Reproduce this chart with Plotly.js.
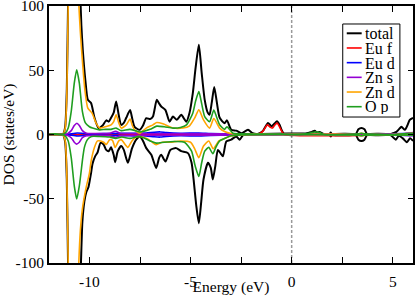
<!DOCTYPE html>
<html>
<head>
<meta charset="utf-8">
<script src="https://cdn.plot.ly/plotly-3.0.1.min.js"></script>
<style>html,body{margin:0;padding:0;background:#fff;}#chart{width:415px;height:296px;}</style>
</head>
<body>
<div id="chart"></div>
<script>
// ---------- data (energy in eV, DOS in states/eV; spin down stored as negative) ----------
const seriesNames = ["total", "Eu f", "Eu d", "Zn s", "Zn d", "O p"];
const seriesColors = ["#000000", "#ff0000", "#0000ff", "#9400d3", "#ffa500", "#1f9e1f"];

const totalUpE = [-12,-11.45,-11.3,-11.2,-11.12,-11.05,-10.9,-10.7,-10.5,-10.4,-10.33,-10.2,-10.08,-9.92,-9.75,-9.55,-9.35,-9.17,-9.05,-8.93,-8.8,-8.68,-8.55,-8.43,-8.3,-8.18,-7.99,-7.88,-7.77,-7.52,-7.35,-7.19,-7.0,-6.86,-6.67,-6.55,-6.45,-6.24,-6.04,-5.87,-5.68,-5.46,-5.21,-5.05,-4.89,-4.75,-4.59,-4.45,-4.3,-4.15,-4.06,-3.95,-3.83,-3.7,-3.56,-3.32,-3.2,-2.99,-2.74,-2.49,-2.16,-1.93,-1.68,-1.42,-1.3,-1.17,-1.0,-0.85,-0.73,-0.6,-0.51,-0.35,0.6,0.89,1.0,1.14,1.25,1.39,1.63,1.85,1.93,2.0,3.15,3.3,3.45,3.6,3.75,4.85,5.0,5.18,5.3,5.43,5.6,5.72,5.84,6.0];
const totalUp  = [0,0,0.5,6,35,110,240,240,130,85,66,42,27,24.5,13,5,7,11,10,13,17,25.7,15,7.5,9,13,19,12,6,3.6,7,12.7,12,14,27,24,21.8,19,10,14,11.4,15.3,10,17,32,52,69.8,48,27,17,15.3,25,37,25,13,8.8,11,3.7,3,1,3.6,1,0.5,2.8,6,9,6.5,8.5,10.3,7.5,4,0,0,1.5,2,3,1.5,2,0,0,1.5,0,0,4,5,4,0,0,1,2,4,6,3.6,7,11.4,13];
const totalDnE = [-12,-11.45,-11.3,-11.2,-11.12,-11.05,-10.9,-10.7,-10.5,-10.42,-10.35,-10.25,-10.16,-10.05,-9.92,-9.85,-9.72,-9.6,-9.45,-9.3,-9.17,-9.05,-8.93,-8.8,-8.73,-8.6,-8.43,-8.3,-8.1,-7.9,-7.69,-7.5,-7.35,-7.19,-6.94,-6.7,-6.55,-6.45,-6.24,-6.0,-5.71,-5.46,-5.13,-4.95,-4.85,-4.72,-4.59,-4.47,-4.36,-4.14,-4.0,-3.9,-3.78,-3.65,-3.5,-3.4,-3.23,-2.99,-2.74,-2.57,-2.4,-2.2,1.85,1.93,2.0,3.15,3.3,3.45,3.6,3.75,4.85,5.0,5.15,5.3,5.5,5.7,5.85,6.0];
const totalDn  = [0,0,-0.5,-6,-35,-110,-240,-240,-140,-100,-68,-52,-45,-41,-30,-23,-17,-14,-6.5,-7.8,-12,-13,-10,-16,-21.5,-13,-9,-12,-22,-11,-4,-1.5,-5,-10.6,-15.8,-26,-18,-15.8,-21,-12,-10.6,-13,-14.5,-22,-35,-55,-69,-52,-35,-22,-26,-35,-25,-12,-15,-17,-5.4,-4,-1.5,-4,-0.5,0,0,-1.5,0,0,-4,-5,-4,0,0,-2,-4,-1,-3,-6,-3,-5];

const euFUpE = [-12,-1.75,-1.55,-1.4,-1.2,-1.05,-0.96,-0.85,-0.72,-0.6,-0.47,-0.35,6];
const euFUp  = [0,0,1,3,7.5,5.5,5,7,8.9,6,2,0,0];
const euFDnE = [-12,6];
const euFDn  = [0,0];

const euDUpE = [-12,-11.2,-11.0,-10.6,-10.0,-9.0,-8.0,-7.2,-6.8,-6.5,-6.2,-5.5,-4.6,-4.0,-3.0,-2.0,-1.0,0,1,3,5,6];
const euDUp  = [0,0,0.3,1.2,0.5,0.8,1,1.2,1.8,2,1.5,1,1.2,0.8,0.5,0.3,0.5,0.2,0.3,0.3,0.6,1];
const euDDnE = [-12,-11.2,-11.0,-10.6,-10.0,-9.0,-8.0,-7.2,-6.8,-6.5,-6.2,-5.5,-4.6,-4.0,-3.0,-2.0,0,3,5,6];
const euDDn  = [0,0,-0.3,-1.2,-0.5,-0.8,-1,-1.2,-1.8,-2,-1.5,-1,-1.2,-0.8,-0.5,-0.3,-0.1,-0.2,-0.5,-0.8];

const znSUpE = [-12,-11.3,-11.1,-10.9,-10.75,-10.62,-10.5,-10.35,-10.15,-9.8,-9.0,-8.7,-8.5,-8.0,-7.0,-6.0,-5.0,-4.0,-3.0,-2.0,-1.0,0,3.45,5.5,6];
const znSUp  = [0,0,0.5,3,7,8.8,7,3,1,0.8,1,2.5,1,0.8,0.6,0.6,0.5,0.5,0.4,0.2,0.1,0,0.2,0.5,1.5];
const znSDnE = [-12,-11.3,-11.1,-10.9,-10.75,-10.64,-10.5,-10.35,-10.15,-9.8,-9.0,-8.7,-8.5,-8.0,-7.0,-6.0,-5.0,-4.0,-3.0,-2.0,-1.0,0,3.45,5.5,6];
const znSDn  = [0,0,-0.5,-2.5,-6,-7.5,-6,-2.5,-1,-0.8,-1,-2.3,-1,-0.8,-0.6,-0.6,-0.5,-0.5,-0.4,-0.2,-0.1,0,-0.2,-0.5,-1];

const znDUpE = [-12,-11.45,-11.3,-11.2,-11.12,-11.05,-10.9,-10.7,-10.55,-10.45,-10.37,-10.22,-10.08,-9.87,-9.67,-9.5,-9.17,-8.93,-8.8,-8.68,-8.55,-8.43,-8.18,-7.99,-7.88,-7.77,-7.52,-7.19,-6.86,-6.67,-6.37,-5.87,-5.38,-5.05,-4.8,-4.59,-4.36,-4.06,-3.85,-3.56,-3.32,-3.0,-2.5,-1.5,-0.35,0.5,3.2,3.45,3.7,5.0,5.5,6.0];
const znDUp  = [0,0,0.5,5,30,100,200,200,110,80,62,34,20.5,16.6,8.8,5,6.2,7.5,10,15.3,9,5,7.5,12,7,3.6,1,5,7.5,9.3,8.3,5,5,6.8,12.7,19.2,11.4,5,12.5,5,2.3,0.8,0.3,0.3,0,0,0,1,0,0,0.5,1];
const znDDnE = [-12,-11.45,-11.3,-11.2,-11.12,-11.05,-10.9,-10.7,-10.55,-10.45,-10.35,-10.16,-10.0,-9.92,-9.75,-9.6,-9.45,-9.3,-9.17,-9.0,-8.86,-8.73,-8.55,-8.43,-8.1,-7.9,-7.69,-7.5,-7.2,-6.94,-6.7,-6.4,-6.0,-5.5,-5.0,-4.8,-4.59,-4.36,-4.1,-3.88,-3.6,-3.3,-3.0,-2.5,-0.5,3.2,3.45,3.7,6.0];
const znDDn  = [0,0,-0.5,-5,-30,-100,-200,-200,-110,-75,-58,-41,-30,-21,-10,-5,-5,-6,-7.8,-4,-4.5,-10,-5,-4,-10,-5,-2,-1.5,-3,-5.4,-8,-6,-6,-5,-6,-11,-18,-9,-5,-11,-5,-3,-1,-0.3,0,0,-1,0,-0.5];

const oPUpE = [-12,-11.7,-11.45,-11.2,-11.05,-10.9,-10.75,-10.63,-10.5,-10.35,-10.2,-10.0,-9.85,-9.5,-9.2,-8.93,-8.68,-8.43,-8.0,-7.5,-7.0,-6.67,-6.3,-5.87,-5.5,-5.2,-4.89,-4.75,-4.59,-4.45,-4.3,-4.06,-3.85,-3.7,-3.56,-3.32,-3.2,-2.9,-2.5,-1.5,-0.5,0,0.7,1.0,1.14,1.39,1.6,3.3,3.45,3.6,5.0,5.5,6.0];
const oPUp  = [0,0.5,0,1,5,18,40,50.3,40,18,9,6,5,3.6,4,4,5,3,4,2,4,6.5,6,5,5.5,7.5,16.6,26,33.4,24,14,10,19,13,7.5,4,6,1,0.5,0.3,0.3,0,0.5,1.5,2,1.5,0,0.5,1,0.5,0,0.5,1];
const oPDnE = [-12,-11.45,-11.2,-11.05,-10.9,-10.75,-10.63,-10.5,-10.33,-10.25,-10.1,-9.9,-9.5,-9.0,-8.7,-8.4,-8.0,-7.5,-7.0,-6.7,-6.3,-5.8,-5.3,-4.95,-4.78,-4.59,-4.45,-4.3,-4.1,-3.9,-3.75,-3.56,-3.3,-3.0,-2.5,0,3.3,3.45,3.6,6.0];
const oPDn  = [0,0,-1,-5,-18,-40,-50.2,-40,-18,-10,-4,-1.5,-1.5,-2,-3,-2,-3,-1.5,-5,-6.7,-6,-5.5,-6,-13,-24,-32.7,-22,-13,-10,-15,-10,-5,-3,-1,-0.3,0,-0.5,-1,-0.5,-0.5];

const xTickVals = [-10, -7.5, -5, -2.5, 0, 2.5, 5];
const xTickText = ["-10", "", "-5", "", "0", "", "5"];
const yTickVals = [-100, -50, 0, 50, 100];
const yTickText = ["-100", "-50", "0", "50", "100"];

// ---------- traces ----------
const seriesData = [
  [totalUpE, totalUp, totalDnE, totalDn],
  [euFUpE, euFUp, euFDnE, euFDn],
  [euDUpE, euDUp, euDDnE, euDDn],
  [znSUpE, znSUp, znSDnE, znSDn],
  [znDUpE, znDUp, znDDnE, znDDn],
  [oPUpE, oPUp, oPDnE, oPDn]
];
const traces = [];
seriesData.forEach((d, i) => {
  const w = i === 0 ? 2 : 1.6;
  [[d[0], d[1], "up"], [d[2], d[3], "down"]].forEach(([x, y, spin]) => {
    traces.push({
      x: x, y: y, type: "scatter", mode: "lines",
      name: seriesNames[i] + " " + spin,
      showlegend: false,
      line: {color: seriesColors[i], width: w, shape: "spline", smoothing: 0.6},
      hoverinfo: "skip"
    });
  });
});

// ---------- compact legend box (xmgrace-like spacing) ----------
const shapes = [
  {type: "line", xref: "x", yref: "paper", x0: 0, x1: 0, y0: 0, y1: 1,
   line: {color: "#999999", width: 1.5, dash: "3px,2px"}, layer: "below"},
  {type: "rect", xref: "paper", yref: "paper", x0: 0.807, x1: 0.964, y0: 0.568, y1: 0.930,
   line: {color: "#000000", width: 1}, fillcolor: "#ffffff", layer: "above"}
];
const annotations = [];
const plotTop = 6, plotH = 257;
seriesNames.forEach((n, i) => {
  const py = 33.3 + i * 14.68;
  const yp = (plotTop + plotH - py) / plotH;
  shapes.push({type: "line", xref: "paper", yref: "paper", x0: 0.818, x1: 0.859, y0: yp, y1: yp,
    line: {color: seriesColors[i], width: i === 0 ? 2 : 1.6}, layer: "above"});
  annotations.push({xref: "paper", yref: "paper", x: 0.866, y: yp, xanchor: "left", yanchor: "middle",
    height: 14, valign: "middle", borderpad: 0,
    text: n, showarrow: false, font: {family: "Liberation Serif", size: 16, color: "#000"}});
});

const axisFont = {family: "Liberation Serif", size: 15.5, color: "#000"};
const layout = {
  width: 415, height: 296,
  margin: {l: 49, r: 2, t: 6, b: 33, pad: 0},
  paper_bgcolor: "#ffffff", plot_bgcolor: "#ffffff",
  font: axisFont,
  showlegend: false,
  xaxis: {
    range: [-12, 6], tickmode: "array", tickvals: xTickVals, ticktext: xTickText,
    ticks: "inside", ticklen: 6, tickwidth: 1, tickcolor: "#000",
    showline: true, linecolor: "#000", linewidth: 2, mirror: "ticks",
    showgrid: false, zeroline: false, tickfont: axisFont, ticklabelstandoff: 3,
    title: {text: "Energy (eV)", font: axisFont, standoff: 0}
  },
  yaxis: {
    range: [-100, 100], tickmode: "array", tickvals: yTickVals, ticktext: yTickText,
    ticks: "inside", ticklen: 5, tickwidth: 1, tickcolor: "#000",
    showline: true, linecolor: "#000", linewidth: 2, mirror: "ticks",
    showgrid: false, zeroline: false, tickfont: axisFont, ticklabeloverflow: "allow",
    title: {text: "DOS (states/eV)", font: axisFont, standoff: 3}
  },
  shapes: shapes,
  annotations: annotations
};

Plotly.newPlot("chart", traces, layout, {staticPlot: true, displayModeBar: false});
</script>
</body>
</html>
